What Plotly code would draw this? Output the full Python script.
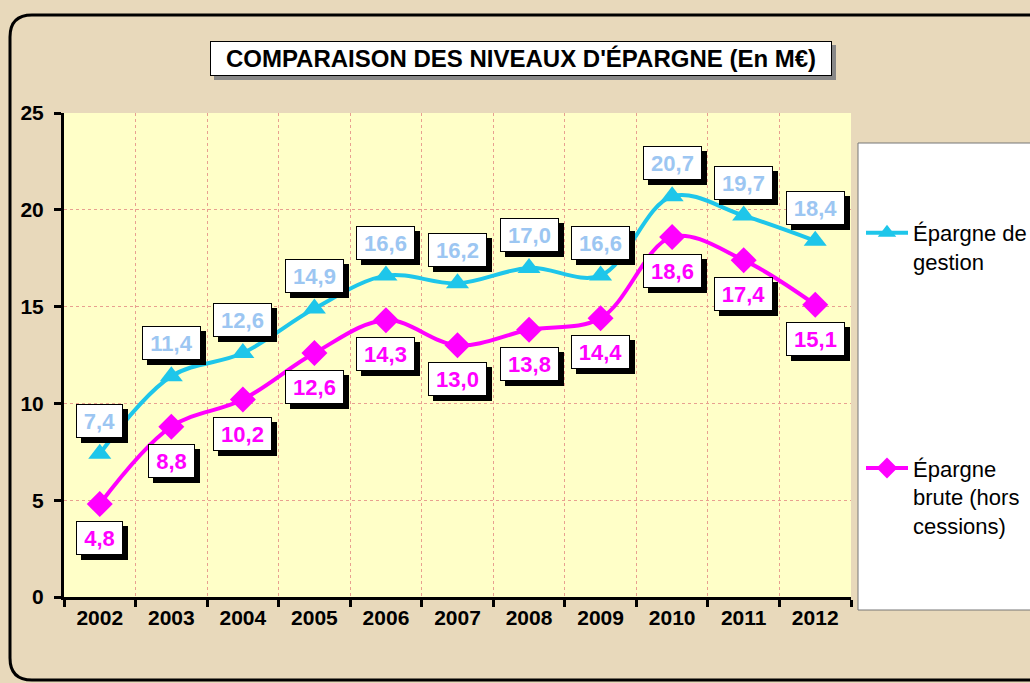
import plotly.graph_objects as go

years = ["2002", "2003", "2004", "2005", "2006", "2007", "2008", "2009", "2010", "2011", "2012"]
epargne_gestion = [7.4, 11.4, 12.6, 14.9, 16.6, 16.2, 17.0, 16.6, 20.7, 19.7, 18.4]
epargne_brute = [4.8, 8.8, 10.2, 12.6, 14.3, 13.0, 13.8, 14.4, 18.6, 17.4, 15.1]
series_names = ["Épargne de<br>gestion", "Épargne<br>brute (hors<br>cessions)"]
title_text = "COMPARAISON DES NIVEAUX D'ÉPARGNE (En M€)"

W, H = 1030, 683
L, R, T, B = 64, 851, 113, 597  # plot area in pixels


def px(x):
    return (x - L) / (R - L)


def py(y):
    return (B - y) / (B - T)


FONT = "Arial, Liberation Sans, sans-serif"
C_GEST = "#1EC6EA"
C_GEST_TXT = "#9CC6F2"
C_BRUTE = "#FF00FF"

fig = go.Figure()
fig.add_trace(go.Scatter(
    x=years, y=epargne_gestion, name=series_names[0], legendgroup="g",
    mode="lines+markers", line=dict(color=C_GEST, width=4, shape="spline", smoothing=1.0),
    marker=dict(symbol="triangle-up", size=20, color=C_GEST),
))
fig.add_trace(go.Scatter(
    x=years, y=epargne_brute, name=series_names[1], legendgroup="b",
    mode="lines+markers", line=dict(color=C_BRUTE, width=4, shape="spline", smoothing=1.0),
    marker=dict(symbol="diamond", size=20, color=C_BRUTE),
))


def fmt(v):
    return f"{v:.1f}".replace(".", ",")


annotations = []
for vals, col, dy in ((epargne_gestion, C_GEST_TXT, 33), (epargne_brute, C_BRUTE, -34)):
    for i, v in enumerate(vals):
        s = fmt(v)
        bw = 41 if len(s) == 3 else 53
        common = dict(x=i, y=v, xref="x", yref="y", showarrow=False, xanchor="center",
                      yanchor="middle", borderpad=2, borderwidth=1, width=bw, height=28)
        annotations.append(dict(common, text=" ", font=dict(family=FONT, size=22, color="black"),
                                bgcolor="black", bordercolor="black", xshift=5, yshift=dy - 5))
        annotations.append(dict(common, text="<b>%s</b>" % s,
                                font=dict(family=FONT, size=22, color=col),
                                bgcolor="white", bordercolor="black", xshift=0, yshift=dy))

# title with shadow
tcommon = dict(x=px(521), y=py(58), xref="paper", yref="paper", showarrow=False,
               xanchor="center", yanchor="middle", borderpad=2, borderwidth=1,
               width=616, height=29)
annotations.append(dict(tcommon, text=" ", font=dict(family=FONT, size=24, color="#888888"),
                        bgcolor="#888888", bordercolor="#888888", xshift=4, yshift=-4))
annotations.append(dict(tcommon, text="<b>%s</b>" % title_text,
                        font=dict(family=FONT, size=24, color="black"),
                        bgcolor="white", bordercolor="black"))

# outer rounded frame
r = 22
x0, y0, x1, y1 = 10, 15, 1040, 680
path = (f"M {px(x1)},{py(y0)} L {px(x0 + r)},{py(y0)} "
        f"Q {px(x0)},{py(y0)} {px(x0)},{py(y0 + r)} "
        f"L {px(x0)},{py(y1 - r)} Q {px(x0)},{py(y1)} {px(x0 + r)},{py(y1)} "
        f"L {px(x1)},{py(y1)}")
shapes = [
    dict(type="path", path=path, xref="paper", yref="paper", line=dict(color="black", width=3),
         fillcolor="rgba(0,0,0,0)", layer="below"),
    dict(type="rect", xref="paper", yref="paper", x0=px(858), x1=px(1040), y0=py(143), y1=py(610),
         fillcolor="white", line=dict(color="#777777", width=1), layer="below"),
]

fig.update_layout(
    width=W, height=H,
    margin=dict(l=L, r=W - R, t=T, b=H - B, autoexpand=False),
    paper_bgcolor="#E8D9BB",
    plot_bgcolor="#FFFFC8",
    font=dict(family=FONT, color="black"),
    showlegend=True,
    legend=dict(x=px(861), y=py(212), xanchor="left", yanchor="top", bgcolor="rgba(0,0,0,0)",
                font=dict(family=FONT, size=22, color="black"), tracegroupgap=175,
                valign="top", itemwidth=42),
    annotations=annotations,
    shapes=shapes,
    xaxis=dict(type="category", tickson="boundaries", showgrid=True, gridcolor="#E8A090",
               griddash="dot", gridwidth=1, showline=True, linecolor="black", linewidth=3,
               ticks="outside", ticklen=7, tickwidth=3, tickcolor="black",
               tickfont=dict(family=FONT, size=21, color="black"), tickprefix="<b>", ticksuffix="</b>",
               range=[-0.5, 10.5], fixedrange=True),
    yaxis=dict(range=[0, 25], dtick=5, showgrid=True, gridcolor="#E8A090", griddash="dot",
               gridwidth=1, showline=True, linecolor="black", linewidth=3,
               ticks="outside", ticklen=7, tickwidth=3, tickcolor="black", zeroline=False,
               tickfont=dict(family=FONT, size=21, color="black"), tickprefix="<b>", ticksuffix="</b>",
               ticklabelstandoff=6, fixedrange=True),
)

fig.write_html("out.html", config={"displayModeBar": False},
               post_script="document.body.style.margin='0';document.body.style.overflow='hidden';")
